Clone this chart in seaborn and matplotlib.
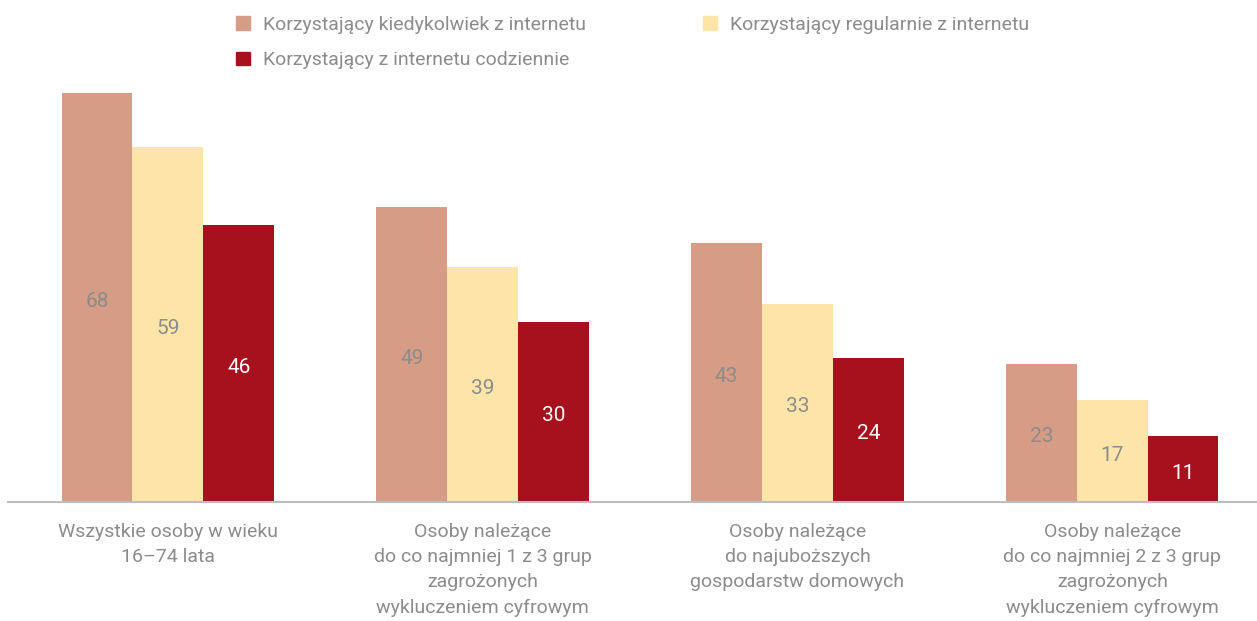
import pandas as pd
import matplotlib
matplotlib.use("Agg")
import matplotlib.pyplot as plt
import seaborn as sns
from matplotlib.patches import Patch

# Dane
grupy = [
    "Wszystkie osoby w wieku\n16–74 lata",
    "Osoby należące\ndo co najmniej 1 z 3 grup\nzagrożonych\nwykluczeniem cyfrowym",
    "Osoby należące\ndo najuboższych\ngospodarstw domowych",
    "Osoby należące\ndo co najmniej 2 z 3 grup\nzagrożonych\nwykluczeniem cyfrowym",
]
serie = [
    "Korzystający kiedykolwiek z internetu",
    "Korzystający regularnie z internetu",
    "Korzystający z internetu codziennie",
]
kiedykolwiek = [68, 49, 43, 23]
regularnie = [59, 39, 33, 17]
codziennie = [46, 30, 24, 11]

kolory = ["#D79C85", "#FDE5A9", "#A7111E"]
kolory_etykiet = ["#8c8c8c", "#8c8c8c", "white"]
szary = "#8c8c8c"

df = pd.DataFrame({
    "Grupa": grupy * 3,
    "Seria": [serie[0]] * 4 + [serie[1]] * 4 + [serie[2]] * 4,
    "Wartosc": kiedykolwiek + regularnie + codziennie,
})

sns.set_style("white")
plt.rcParams["font.family"] = ["Liberation Sans Narrow", "Roboto", "DejaVu Sans"]

fig = plt.figure(figsize=(12.57, 6.21), dpi=100)
ax = fig.add_axes([8 / 1257, 119 / 621, 1 - 8 / 1257, 0.678])

sns.barplot(data=df, x="Grupa", y="Wartosc", hue="Seria", hue_order=serie,
            palette=kolory, width=0.675, saturation=1, linewidth=0,
            ax=ax, legend=False)

for kont, kol in zip(ax.containers, kolory_etykiet):
    ax.bar_label(kont, label_type="center", color=kol, fontsize=15, padding=-3)

ax.set_ylim(0, 70)
ax.set_xlim(-0.508, 3.46)
ax.set_xlabel("")
ax.set_ylabel("")
ax.set_yticks([])
for s in ["top", "right", "left"]:
    ax.spines[s].set_visible(False)
ax.spines["bottom"].set_color("#bdbdbd")
ax.spines["bottom"].set_linewidth(1.5)
ax.tick_params(axis="x", length=0, pad=15, labelsize=14, labelcolor=szary)
for t in ax.get_xticklabels():
    t.set_linespacing(1.52)

# Legenda (wypełniana kolumnami)
uchwyty = [Patch(color=kolory[i], label=serie[i]) for i in [0, 2, 1]]
fig.legend(handles=uchwyty, loc="upper left", bbox_to_anchor=(0.174, 1.003),
           ncol=2, frameon=False, fontsize=14, labelcolor=szary,
           handlelength=0.7, handleheight=0.7, handletextpad=0.7,
           columnspacing=6.0, labelspacing=0.9)

fig.savefig("out.png", dpi=100)
